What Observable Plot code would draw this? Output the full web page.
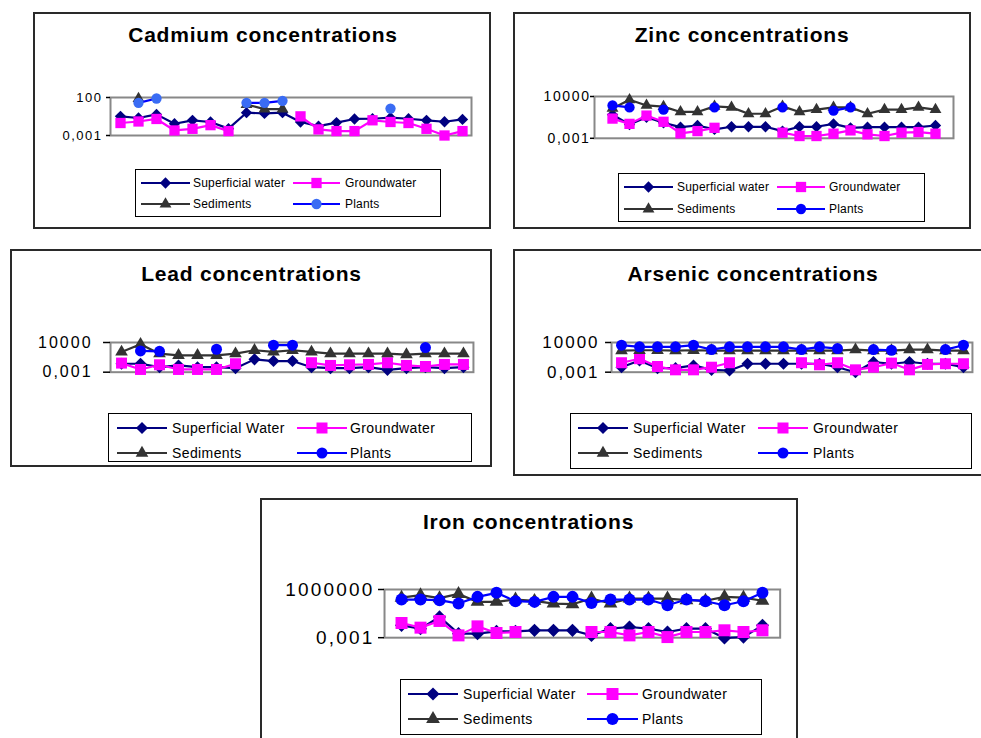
<!DOCTYPE html>
<html><head><meta charset="utf-8">
<script src="https://cdn.jsdelivr.net/npm/d3@7"></script>
<script src="https://cdn.jsdelivr.net/npm/@observablehq/plot@0.6"></script>
<style>
body{margin:0;background:#fff;font-family:"Liberation Sans",Arial,sans-serif;}
#page{position:relative;width:981px;height:738px;overflow:hidden;background:#fff;}
.box{position:absolute;border:2px solid #2a2a2a;box-sizing:border-box;background:#fff;}
.title{position:absolute;font-weight:bold;font-size:21px;letter-spacing:0.8px;white-space:nowrap;transform:translate(-50%,-50%);color:#000;line-height:1;}
.legend{position:absolute;border:1px solid #000;box-sizing:border-box;background:#fff;}
.ltext{position:absolute;white-space:nowrap;transform:translateY(-50%);line-height:1;color:#000;}
svg.plt{position:absolute;}
svg.lg{position:absolute;overflow:visible;}
</style></head>
<body><div id="page"></div>
<script>
// ---------- DATA ----------
const namesLower = ["Superficial water", "Groundwater", "Sediments", "Plants"];
const namesUpper = ["Superficial Water", "Groundwater", "Sediments", "Plants"];
const titles = ["Cadmium concentrations", "Zinc concentrations", "Lead concentrations", "Arsenic concentrations", "Iron concentrations"];

const cdTicks = [0.001, 100];
const cdTickLabels = ["0,001", "100"];
const znTicks = [0.001, 10000];
const znTickLabels = ["0,001", "10000"];
const pbTicks = [0.001, 10000];
const pbTickLabels = ["0,001", "10000"];
const asTicks = [0.001, 10000];
const asTickLabels = ["0,001", "10000"];
const feTicks = [0.001, 1000000];
const feTickLabels = ["0,001", "1000000"];

const cdWater = [0.33, 0.2, 0.6, 0.035, 0.1, 0.06, 0.008, 1, 0.8, 1, 0.06, 0.017, 0.05, 0.15, 0.16, 0.22, 0.16, 0.1, 0.065, 0.13];
const cdGround = [0.044, 0.07, 0.15, 0.0046, 0.0076, 0.023, 0.0038, null, null, null, 0.33, 0.0063, 0.0038, 0.0038, 0.1, 0.06, 0.044, 0.0076, 0.001, 0.0038];
const cdSediments = [null, 70, null, null, null, null, null, 12, 3, 3, null, null, null, null, null, null, null, null, null, null];
const cdPlants = [null, 20, 74, null, null, null, null, 20, 20, 36, null, null, null, null, null, 3.5, null, null, null, null];

const znWater = [9, 0.2, 3.4, 0.39, 0.074, 0.14, 0.031, 0.085, 0.085, 0.085, 0.016, 0.085, 0.085, 0.26, 0.057, 0.074, 0.074, 0.074, 0.074, 0.14];
const znGround = [2, 0.26, 6.3, 0.58, 0.0067, 0.016, 0.057, null, null, null, 0.0087, 0.0024, 0.0024, 0.0059, 0.021, 0.0046, 0.0024, 0.0087, 0.011, 0.0059];
const znSediments = [100, 2800, 320, 200, 26, 26, 220, 150, 13, 13, 220, 26, 63, 150, 150, 13, 63, 63, 150, 63];
const znPlants = [320, 150, null, 63, null, null, 150, null, null, null, 150, null, null, 43, 150, null, null, null, null, null];

const pbWater = [0.098, 0.098, 0.015, 0.039, 0.015, 0.015, 0.0089, 1.05, 0.42, 0.42, 0.015, 0.0089, 0.0089, 0.015, 0.0036, 0.0089, 0.015, 0.0089, 0.015];
const pbGround = [0.14, 0.0044, 0.056, 0.0044, 0.0044, 0.0044, 0.098, null, null, null, 0.17, 0.039, 0.056, 0.068, 0.17, 0.039, 0.022, 0.068, 0.068];
const pbSediments = [59, 4000, 23, 9.5, 9.5, 9.5, 23, 148, 59, 148, 59, 23, 23, 23, 23, 14, 23, 23, 23];
const pbPlants = [null, 102, 85, null, null, 257, null, null, 2300, 2300, null, null, null, null, null, null, 645, null, null];

const asWater = [0.015, 0.6, 0.009, 0.009, 0.039, 0.0036, 0.0025, 0.098, 0.098, 0.098, 0.098, 0.098, 0.015, 0.001, 0.25, 0.098, 0.25, 0.098, 0.098, 0.015];
const asGround = [0.17, 1.5, 0.022, 0.0036, 0.0036, 0.015, 0.17, null, null, null, 0.17, 0.056, 0.17, 0.0036, 0.015, 0.14, 0.0036, 0.068, 0.098, 0.098];
const asSediments = [120, 150, 150, 120, 150, 120, 120, 120, 120, 120, 120, 120, 120, 200, 120, 120, 200, 200, 120, 120];
const asPlants = [2300, 930, 930, 930, 2300, 213, 930, 930, 930, 930, 213, 930, 370, null, 213, 148, null, null, 213, 2300];

const feWater = [0.2, 0.049, 7.5, 0.0056, 0.0056, 0.015, 0.015, 0.024, 0.024, 0.024, 0.0027, 0.049, 0.1, 0.049, 0.0115, 0.049, 0.049, 0.0009, 0.0013, 0.2];
const feGround = [0.56, 0.075, 1.33, 0.0027, 0.13, 0.0075, 0.0115, null, null, null, 0.0115, 0.0115, 0.0027, 0.0115, 0.0013, 0.0115, 0.0115, 0.024, 0.0115, 0.024];
const feSediments = [30000, 87000, 24000, 150000, 4870, 4870, 13300, 7500, 2370, 1780, 20500, 2370, 20500, 20500, 20500, 10000, 8000, 42000, 30000, 8000];
const fePlants = [13300, 13300, 10000, 2370, 42000, 237000, 6500, 4870, 42000, 42000, 3000, 13300, 13300, 13300, 1150, 13300, 6500, 1150, 6500, 237000];

// ---------- STYLE / LAYOUT ----------
const diamond = d3.symbolDiamond2 || d3.symbolDiamond;
const seriesStyle = [
  {stroke: "#000080", fill: "#000080", symbol: diamond, k: 1.1 / 2.22},
  {stroke: "#ff00ff", fill: "#ff00ff", symbol: d3.symbolSquare, k: 1 / 1.7725},
  {stroke: "#333333", fill: "#333333", symbol: d3.symbolTriangle, k: 1.15 / 2.694},
  {stroke: "#0000ff", fill: "#0000ff", symbol: d3.symbolCircle, k: 1 / 2}
];

const panels = [
  {title: titles[0], names: namesLower, series: [cdWater, cdGround, cdSediments, cdPlants], ticks: cdTicks, labels: cdTickLabels,
   plantsFill: "#3a6cf4",
   box: [33, 12, 491, 229], titleXY: [263, 34], frame: [110, 97.3, 471, 135.3],
   axisFont: 13, axisSpacing: 1.5, tickSize: 4, tickPad: 4, marker: 10.3,
   legend: {box: [135, 169.3, 441, 217.3], rows: [183, 204.3], cols: [[141, 190, 193], [293, 340, 345]], font: 12, spacing: 0.2}},
  {title: titles[1], names: namesLower, series: [znWater, znGround, znSediments, znPlants], ticks: znTicks, labels: znTickLabels,
   box: [513, 12, 971, 229], titleXY: [742, 34], frame: [594, 95.5, 953, 137.3],
   axisFont: 14, axisSpacing: 1.6, tickSize: 4, tickPad: 0, marker: 10.3,
   legend: {box: [618, 173.3, 925, 221.7], rows: [186.7, 209], cols: [[624, 673, 677], [777, 825, 829]], font: 12, spacing: 0.2}},
  {title: titles[2], names: namesUpper, series: [pbWater, pbGround, pbSediments, pbPlants], ticks: pbTicks, labels: pbTickLabels,
   box: [10, 249, 492, 467], titleXY: [251.5, 273.3], frame: [110, 342, 473, 371.7],
   axisFont: 16, axisSpacing: 2, tickSize: 7, tickPad: 11, marker: 11,
   legend: {box: [108, 413.3, 472, 461.7], rows: [427.7, 453.3], cols: [[117, 167, 172], [297, 347, 350]], font: 14, spacing: 0.4}},
  {title: titles[3], names: namesUpper, series: [asWater, asGround, asSediments, asPlants], ticks: asTicks, labels: asTickLabels,
   box: [513, 249, 990, 476], titleXY: [753, 273.3], frame: [611, 342, 972, 371.7],
   axisFont: 17, axisSpacing: 2, tickSize: 6, tickPad: 6, marker: 11,
   legend: {box: [570, 413.3, 972, 469], rows: [427.7, 453.3], cols: [[578, 628, 633], [758, 808, 813]], font: 14, spacing: 0.4}},
  {title: titles[4], names: namesUpper, series: [feWater, feGround, feSediments, fePlants], ticks: feTicks, labels: feTickLabels,
   box: [260, 498, 798, 750], titleXY: [528.5, 521], frame: [384.3, 589.3, 780, 637.5],
   axisFont: 19, axisSpacing: 2.2, tickSize: 6, tickPad: 4, marker: 12,
   legend: {box: [400, 679.3, 762, 735], rows: [694, 719.3], cols: [[408, 458, 463], [587, 638, 642]], font: 14, spacing: 0.4}}
];

const page = document.getElementById("page");

function styleFor(p, k) {
  const s = Object.assign({}, seriesStyle[k]);
  if (k === 3 && p.plantsFill) s.fill = p.plantsFill;
  return s;
}

function drawPanel(p) {
  const [bl, bt, br, bb] = p.box;
  const box = document.createElement("div");
  box.className = "box";
  Object.assign(box.style, {left: bl + "px", top: bt + "px", width: (br - bl) + "px", height: (bb - bt) + "px"});
  page.appendChild(box);

  const t = document.createElement("div");
  t.className = "title";
  t.textContent = p.title;
  t.style.left = p.titleXY[0] + "px";
  t.style.top = p.titleXY[1] + "px";
  page.appendChild(t);

  // Plot
  const [fl, ft, fr, fb] = p.frame;
  const m = {l: 90, r: 10, t: 12, b: 12};
  const n = p.series[0].length;
  const idx = d3.range(n);
  const labelOf = new Map(p.ticks.map((v, i) => [v, p.labels[i]]));
  const marks = [Plot.frame({stroke: "#888888", strokeWidth: 2})];
  p.series.forEach((vals, k) => {
    const st = styleFor(p, k);
    const data = vals.map((v, i) => ({i, v}));
    marks.push(Plot.line(data, {x: "i", y: "v", stroke: st.stroke, strokeWidth: 2.2}));
    marks.push(Plot.dot(data.filter(d => d.v != null), {
      x: "i", y: "v", symbol: st.symbol, r: p.marker * st.k, fill: st.fill, stroke: "none"
    }));
  });
  marks.push(Plot.axisY({
    ticks: p.ticks, tickFormat: d => labelOf.get(d), tickSize: p.tickSize, tickPadding: p.tickPad,
    label: null, line: true, stroke: "#000", strokeWidth: 1.5, fill: "#000"
  }));
  const svg = Plot.plot({
    width: (fr - fl) + m.l + m.r,
    height: (fb - ft) + m.t + m.b,
    marginLeft: m.l, marginRight: m.r, marginTop: m.t, marginBottom: m.b,
    x: {type: "point", domain: idx, padding: 0.5, axis: null},
    y: {type: "log", domain: [p.ticks[0], p.ticks[p.ticks.length - 1]], axis: null},
    style: {background: "transparent", overflow: "visible", fontFamily: '"Liberation Sans", Arial, sans-serif',
            fontSize: p.axisFont + "px", letterSpacing: p.axisSpacing + "px", color: "#000", maxWidth: "none"},
    marks
  });
  svg.classList.add("plt");
  svg.style.left = (fl - m.l) + "px";
  svg.style.top = (ft - m.t) + "px";
  page.appendChild(svg);

  // Legend
  const L = p.legend;
  const lg = document.createElement("div");
  lg.className = "legend";
  Object.assign(lg.style, {left: L.box[0] + "px", top: L.box[1] + "px", width: (L.box[2] - L.box[0]) + "px", height: (L.box[3] - L.box[1]) + "px"});
  page.appendChild(lg);
  const order = [[0, 0, 0], [1, 0, 1], [2, 1, 0], [3, 1, 1]]; // series, row, col
  order.forEach(([k, r, c]) => {
    const st = styleFor(p, k);
    const [x0, x1, tx] = L.cols[c];
    const y = L.rows[r];
    const s = d3.create("svg").attr("class", "lg")
      .attr("width", x1 - x0).attr("height", 20)
      .style("left", x0 + "px").style("top", (y - 10) + "px");
    s.append("line").attr("x1", 0).attr("x2", x1 - x0).attr("y1", 10).attr("y2", 10)
      .attr("stroke", st.stroke).attr("stroke-width", 2);
    const rr = p.marker * st.k;
    s.append("path").attr("d", d3.symbol().type(st.symbol).size(Math.PI * rr * rr)())
      .attr("transform", `translate(${(x1 - x0) / 2},10)`).attr("fill", st.fill);
    page.appendChild(s.node());
    const tx_ = document.createElement("div");
    tx_.className = "ltext";
    tx_.textContent = p.names[k];
    Object.assign(tx_.style, {left: tx + "px", top: y + "px", fontSize: L.font + "px", letterSpacing: L.spacing + "px"});
    page.appendChild(tx_);
  });
}

panels.forEach(drawPanel);
</script>
</body></html>
